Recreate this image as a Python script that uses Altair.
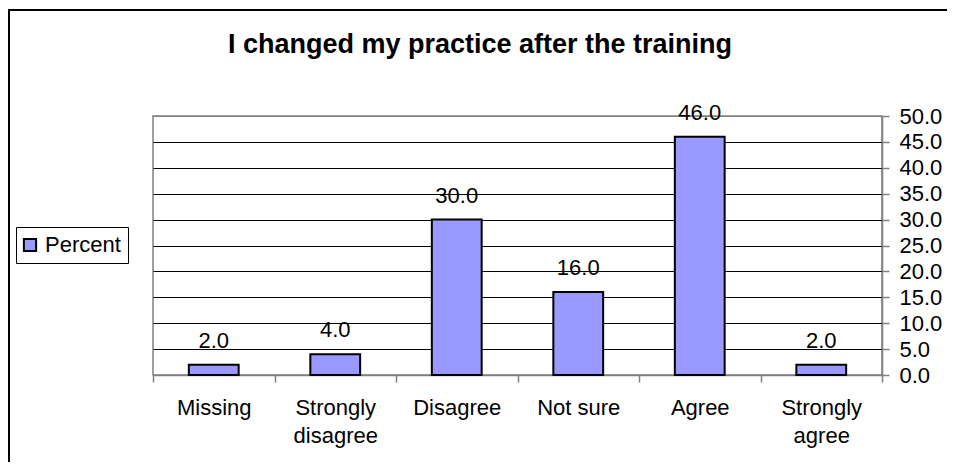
import altair as alt
import pandas as pd

categories = ["Missing", "Strongly disagree", "Disagree", "Not sure", "Agree", "Strongly agree"]
percent = [2.0, 4.0, 30.0, 16.0, 46.0, 2.0]
series_name = "Percent"
y_ticks = [0, 5, 10, 15, 20, 25, 30, 35, 40, 45, 50]
title_text = "I changed my practice after the training"

df = pd.DataFrame({
    "category": categories,
    "pct": percent,
    "series": [series_name] * len(categories),
})

FONT = "Liberation Sans"
W, H = 729, 259
GRAY = "#808080"

x = alt.X(
    "category:N",
    sort=categories,
    scale=alt.Scale(paddingInner=0, paddingOuter=0),
    axis=alt.Axis(
        title=None, labelAngle=0, labelFontSize=22, labelColor="black", labelFont=FONT,
        labelPadding=15, labelLineHeight=28, tickBand="extent", tickSize=7,
        tickColor=GRAY, tickWidth=1.5, domainColor=GRAY, domainWidth=1.5,
        labelExpr="indexof(datum.label, 'Strongly') == 0 ? split(datum.label, ' ') : datum.label",
    ),
)
y = alt.Y(
    "pct:Q",
    scale=alt.Scale(domain=[0, 50], nice=False),
    axis=alt.Axis(
        orient="right", title=None, values=y_ticks, format=".1f", labelFontSize=22,
        labelFont=FONT, labelColor="black", labelPadding=10, tickSize=7, tickColor=GRAY,
        tickWidth=1.5, domainColor=GRAY, domainWidth=1.5, grid=True, gridWidth=1,
        gridColor={"condition": {"test": "datum.value == 50 || datum.value == 0", "value": GRAY},
                   "value": "black"},
    ),
)

bars = alt.Chart(df).mark_bar(
    width=alt.RelativeBandSize(0.41), stroke="black", strokeWidth=2
).encode(
    x=x, y=y,
    color=alt.Color(
        "series:N",
        scale=alt.Scale(range=["#9999FF"]),
        legend=alt.Legend(
            title=None, orient="none", legendX=-137, legendY=111,
            symbolType="square", symbolSize=150, symbolStrokeWidth=2,
            symbolStrokeColor="black", symbolOffset=-4, labelFontSize=22, labelFont=FONT,
            labelColor="black", labelOffset=4, padding=7, strokeColor="black",
            fillColor="white",
        ),
    ),
)

labels = alt.Chart(df).mark_text(
    fontSize=22, font=FONT, color="black", dy=-17, baseline="alphabetic"
).encode(x=x, y=y, text=alt.Text("pct:Q", format=".1f"))

frame = pd.DataFrame({"k": [0]})
border_left = alt.Chart(frame).mark_rule(color="black", strokeWidth=2).encode(
    x=alt.value(-144), y=alt.value(-107), y2=alt.value(360)
)
border_top = alt.Chart(frame).mark_rule(color="black", strokeWidth=2).encode(
    x=alt.value(-145), x2=alt.value(800), y=alt.value(-106)
)

title_mark = alt.Chart(pd.DataFrame({"t": [title_text]})).mark_text(
    fontSize=27, fontWeight="bold", font=FONT, color="black", align="center", baseline="alphabetic"
).encode(x=alt.value(327), y=alt.value(-63), text="t:N")

chart = alt.layer(border_left, border_top, bars, labels, title_mark).properties(
    width=W, height=H,
    autosize=alt.AutoSizeParams(type="none"),
    padding={"left": 145, "top": 108, "right": 65, "bottom": 87},
).configure(font=FONT).configure_view(stroke=GRAY, strokeWidth=1.5)

chart.save("out.html", embed_options={"renderer": "svg", "actions": False})
